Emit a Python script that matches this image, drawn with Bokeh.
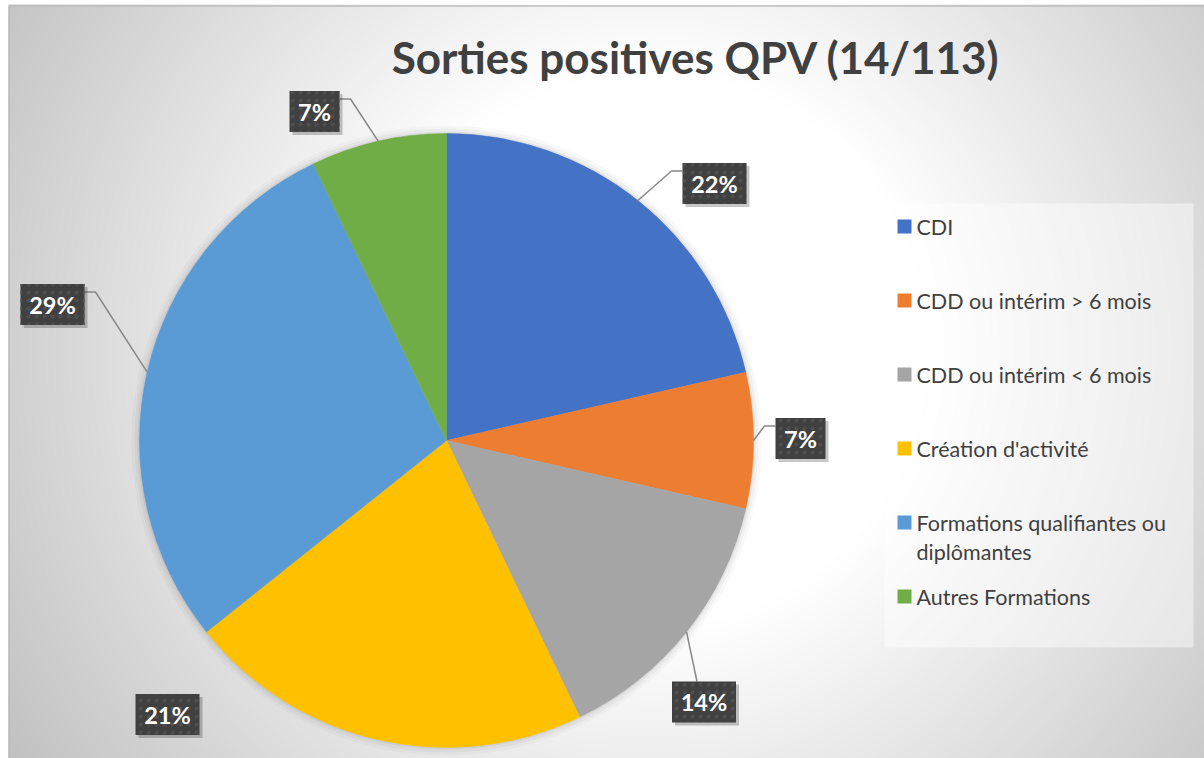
import math
import numpy as np
from bokeh.plotting import figure
from bokeh.models import Range1d, ColumnDataSource
from bokeh.core.properties import value
from bokeh.embed import file_html
from bokeh.resources import INLINE

# ---------------- data ----------------
categories = ["CDI", "CDD ou intérim > 6 mois", "CDD ou intérim < 6 mois",
              "Création d'activité", "Formations qualifiantes ou\ndiplômantes",
              "Autres Formations"]
counts = [3, 1, 2, 3, 4, 1]
pct_labels = ["22%", "7%", "14%", "21%", "29%", "7%"]
colors = ["#4472C4", "#ED7D31", "#A5A5A5", "#FFC000", "#5B9BD5", "#70AD47"]
title = "Sorties positives QPV (14/113)"

# ---------------- layout (styling) ----------------
W, H = 1204, 758
CX, CY, R = 446, 318, 307
# label box centre offsets from pie centre (px, y up) and leader attachment side
label_offsets = [(268, 257), (354, 2), (257.5, -261.5), (-279, -274), (-394, 136), (-132, 329)]
leader_side = ["left", "left", "top", None, "right", "right"]
FONT = "Lato"
TXT = "#404040"
LEFT, TOP = 8, 753  # chart area left edge / top edge (fig coords)

p = figure(width=W, height=H, x_range=Range1d(0, W), y_range=Range1d(0, H),
           output_backend="svg", toolbar_location=None,
           x_axis_type=None, y_axis_type=None, min_border=0,
           outline_line_color=None,
           background_fill_color="white", border_fill_color="white")
p.grid.visible = False

# background radial gradient (chart area only)
yy, xx = np.mgrid[0:H, 0:W]
X = xx.astype(float)
Y = float(H) - yy
d = np.sqrt((X - 650.0) ** 2 + (Y - 350.0) ** 2)
g = np.clip(255.0 - 0.128 * np.clip(d - 278.0, 0, None), 185, 255).astype(np.uint32)
img = (255 << 24) | (g << 16) | (g << 8) | g
mask = (xx < LEFT) | (yy > TOP)
img[mask] = 0xFFFFFFFF
p.image_rgba(image=[img.astype(np.uint32)], x=0, y=0, dw=W, dh=H)
p.line(x=[LEFT + 0.5, LEFT + 0.5, W], y=[0, TOP - 0.5, TOP - 0.5], line_color="#BDBDBD", line_width=1.5)

# legend panel
p.rect(x=(884 + 1193) / 2, y=H - (203 + 647) / 2, width=1193 - 884, height=647 - 203,
       fill_color="white", fill_alpha=0.45, line_color=None)

# pie shadow
for extra, a in [(8, 0.025), (5, 0.035), (2, 0.05)]:
    p.circle(x=CX, y=CY, radius=R + extra, fill_color="black", fill_alpha=a, line_color=None)

# pie
total = float(sum(counts))
cum = np.cumsum([0] + counts) / total
starts = [math.pi / 2 - 2 * math.pi * cum[i] for i in range(len(counts))]
ends = [math.pi / 2 - 2 * math.pi * cum[i + 1] for i in range(len(counts))]
src = ColumnDataSource(dict(start=starts, end=ends, color=colors, cat=categories))
p.wedge(x=CX, y=CY, radius=R, start_angle="start", end_angle="end", direction="clock",
        fill_color="color", line_color="color", line_width=0.5, source=src)

# data labels with leaders
bx, by, bw, bh = [], [], [], []
lx, ly = [], []
for i, lab in enumerate(pct_labels):
    cx = CX + label_offsets[i][0]
    cy = CY + label_offsets[i][1]
    w = 64 if len(lab) >= 3 else 50
    h = 41
    bx.append(cx); by.append(cy); bw.append(w); bh.append(h)
    mid = (starts[i] + ends[i]) / 2
    ex, ey = CX + R * math.cos(mid), CY + R * math.sin(mid)
    side = leader_side[i]
    if side == "left":
        yk = cy + h / 2 - 8
        lx.append([ex, cx - w / 2 - 11, cx - w / 2]); ly.append([ey, yk, yk])
    elif side == "right":
        yk = cy + h / 2 - 8
        lx.append([ex, cx + w / 2 + 11, cx + w / 2]); ly.append([ey, yk, yk])
    elif side == "top":
        lx.append([ex, cx - 7]); ly.append([ey, cy + h / 2])

p.multi_line(xs=lx, ys=ly, line_color="#888888", line_width=1.5)
p.rect(x=[v + 3 for v in bx], y=[v - 3 for v in by], width=bw, height=bh,
       fill_color="black", fill_alpha=0.22, line_color=None)
p.rect(x=bx, y=by, width=bw, height=bh, fill_color="#404040", line_color=None,
       hatch_pattern="dot", hatch_color="#4E4E4E", hatch_scale=8, hatch_weight=1)
p.text(x=bx, y=by, text=pct_labels, text_align="center", text_baseline="middle",
       text_color="white", text_font=value(FONT), text_font_style="bold",
       text_font_size="23.5px")

# legend
sq_x, sq_y, tx, ty, tt = [], [], [], [], []
for i, c in enumerate(categories):
    yc = H - (226 + 74 * i)
    sq_x.append(904); sq_y.append(yc)
    for j, line in enumerate(c.split("\n")):
        tx.append(916); ty.append(yc - 29 * j); tt.append(line)
p.rect(x=sq_x, y=sq_y, width=14, height=14, fill_color=colors, line_color=None)
p.text(x=tx, y=ty, text=tt, text_align="left", text_baseline="middle",
       text_color=TXT, text_font=value(FONT), text_font_size="21.5px")

# title
p.text(x=[695.5], y=[H - 56], text=[title], text_align="center", text_baseline="middle",
       text_color=TXT, text_font=value(FONT), text_font_style="bold",
       text_font_size="44px")

open("out.html", "w").write(file_html(p, INLINE))
